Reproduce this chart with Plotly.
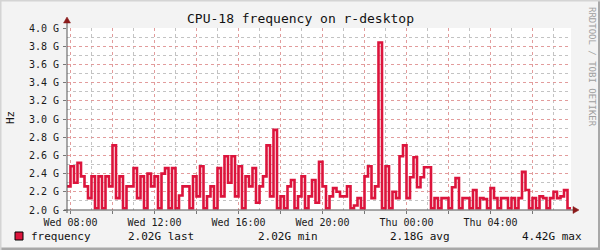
import plotly.graph_objects as go
import pandas as pd

# ---------------- data ----------------
start_time = "2024-01-03 07:50"   # a Wednesday
step_minutes = 10
freq_ghz = [
    2.26, 2.48, 2.30, 2.52, 2.37, 2.26, 2.13, 2.37, 2.02, 2.37,
    2.02, 2.37, 2.26, 2.71, 2.13, 2.37, 2.02, 2.26, 2.26, 2.46,
    2.13, 2.37, 2.02, 2.40, 2.26, 2.37, 2.02, 2.40, 2.46, 2.02,
    2.46, 2.02, 2.16, 2.26, 2.26, 2.02, 2.37, 2.15, 2.48, 2.02,
    2.15, 2.26, 2.02, 2.46, 2.15, 2.59, 2.30, 2.59, 2.15, 2.48,
    2.02, 2.37, 2.26, 2.46, 2.08, 2.26, 2.37, 2.71, 2.15, 2.88,
    2.02, 2.15, 2.02, 2.26, 2.33, 2.02, 2.15, 2.37, 2.02, 2.15,
    2.33, 2.08, 2.53, 2.26, 2.02, 2.15, 2.24, 2.20, 2.15, 2.15,
    2.26, 2.02, 2.05, 2.13, 2.02, 2.37, 2.48, 2.13, 2.26, 3.84,
    2.02, 2.48, 2.02, 2.20, 2.13, 2.59, 2.71, 2.13, 2.36, 2.58,
    2.25, 2.36, 2.47, 2.47, 2.02, 2.13, 2.02, 2.13, 2.13, 2.02,
    2.25, 2.35, 2.02, 2.13, 2.13, 2.02, 2.22, 2.02, 2.13, 2.12,
    2.02, 2.24, 2.13, 2.02, 2.13, 2.13, 2.02, 2.13, 2.02, 2.13,
    2.42, 2.22, 2.02, 2.13, 2.02, 2.15, 2.13, 2.02, 2.13, 2.20,
    2.13, 2.15, 2.22, 2.02,
]
y_tick_values = [2.0, 2.2, 2.4, 2.6, 2.8, 3.0, 3.2, 3.4, 3.6, 3.8, 4.0]
y_tick_labels = ["2.0 G", "2.2 G", "2.4 G", "2.6 G", "2.8 G", "3.0 G",
                 "3.2 G", "3.4 G", "3.6 G", "3.8 G", "4.0 G"]
legend_name = "frequency"
legend_stats = ["2.02G last", "2.02G min", "2.18G avg", "4.42G max"]
title_text = "CPU-18 frequency on r-desktop"
y_title = "Hz"
watermark = "RRDTOOL / TOBI OETIKER"

# ---------------- build ----------------
t0 = pd.Timestamp(start_time)
times = [t0 + pd.Timedelta(minutes=step_minutes * i) for i in range(len(freq_ghz))]
t_end = t0 + pd.Timedelta(hours=24)
xs = times + [t_end]
ys = freq_ghz + [freq_ghz[-1]]

first_even = pd.Timestamp("2024-01-03 08:00")
x_ticks = [first_even + pd.Timedelta(hours=2 * i) for i in range(12)]
x_ticktext = [t.strftime("%a %H:%M") if t.hour % 4 == 0 else "" for t in x_ticks]

MONO = "DejaVu Sans Mono"
LINE = "#DC143C"
RED_GRID = "rgba(240,140,140,0.7)"
GRAY_GRID = "rgba(175,175,175,0.75)"

fig = go.Figure()
fig.add_trace(go.Scatter(
    x=xs, y=ys, mode="lines", line=dict(color=LINE, width=2.6, shape="hv"),
    hoverinfo="skip", showlegend=False,
))

W, H = 600, 250
L, R, T, B = 67, 29, 28, 40
plot_h = H - T - B

fig.update_layout(
    width=W, height=H,
    margin=dict(l=L, r=R, t=T, b=B, pad=0),
    paper_bgcolor="#F3F3F3",
    plot_bgcolor="#FFFFFF",
    font=dict(family=MONO, size=10, color="#222222"),
    showlegend=False,
)
fig.update_xaxes(
    type="date", range=[t0, t_end],
    tickmode="array", tickvals=x_ticks, ticktext=x_ticktext,
    showgrid=True, gridcolor=RED_GRID, griddash="dot", gridwidth=1,
    ticks="outside", ticklen=3, tickcolor="#777777",
    tickfont=dict(family=MONO, size=10, color="#1A1A1A"),
    minor=dict(dtick=3600000, tick0=first_even, showgrid=True,
               gridcolor=GRAY_GRID, griddash="dot", gridwidth=1, ticks=""),
    showline=False, zeroline=False, fixedrange=True,
)
fig.update_yaxes(
    range=[2.0, 4.0],
    tickmode="array", tickvals=y_tick_values, ticktext=y_tick_labels,
    showgrid=True, gridcolor=RED_GRID, griddash="dot", gridwidth=1,
    ticks="outside", ticklen=3, tickcolor="#777777",
    ticklabelstandoff=2,
    tickfont=dict(family=MONO, size=10, color="#1A1A1A"),
    minor=dict(dtick=0.1, tick0=2.0, showgrid=True,
               gridcolor=GRAY_GRID, griddash="dot", gridwidth=1, ticks=""),
    showline=False, zeroline=False, fixedrange=True,
)

shapes = []
# axis lines (extend a bit beyond plot)
shapes.append(dict(type="line", xref="paper", yref="paper",
                   x0=0, x1=0, y0=-3 / plot_h, y1=1 + 6 / plot_h,
                   line=dict(color="#555555", width=1)))
shapes.append(dict(type="line", xref="paper", yref="paper",
                   x0=-3 / (W - L - R), x1=1 + 3 / (W - L - R), y0=0, y1=0,
                   line=dict(color="#555555", width=1)))
# arrows
shapes.append(dict(type="path", xref="paper", yref="paper",
                   xsizemode="pixel", ysizemode="pixel", xanchor=0, yanchor=1,
                   path="M -3.5,5 L 3.5,5 L 0,11 Z",
                   fillcolor="#8B1A1A", line=dict(color="#8B1A1A", width=0.5)))
shapes.append(dict(type="path", xref="paper", yref="paper",
                   xsizemode="pixel", ysizemode="pixel", xanchor=1, yanchor=0,
                   path="M 2,-3.5 L 2,3.5 L 8,0 Z",
                   fillcolor="#8B1A1A", line=dict(color="#8B1A1A", width=0.5)))
# legend swatch
shapes.append(dict(type="rect", xref="paper", yref="paper",
                   xsizemode="pixel", ysizemode="pixel", xanchor=0, yanchor=0,
                   x0=15 - L, x1=23 - L, y0=-(236 - 210) - 4, y1=-(236 - 210) + 4,
                   fillcolor=LINE, line=dict(color="#000000", width=1)))
# frame shading
shapes.append(dict(type="rect", xref="paper", yref="paper",
                   xsizemode="pixel", ysizemode="pixel", xanchor=0, yanchor=0,
                   x0=-L, x1=W - L, y0=-B, y1=-B + 2.5,
                   fillcolor="#A8A8A8", line=dict(width=0)))
shapes.append(dict(type="rect", xref="paper", yref="paper",
                   xsizemode="pixel", ysizemode="pixel", xanchor=1, yanchor=0,
                   x0=R - 2, x1=R, y0=-B, y1=plot_h + T,
                   fillcolor="#A8A8A8", line=dict(width=0)))
shapes.append(dict(type="rect", xref="paper", yref="paper",
                   xsizemode="pixel", ysizemode="pixel", xanchor=0, yanchor=1,
                   x0=-L, x1=W - L, y0=T - 1.5, y1=T,
                   fillcolor="#D4D4D4", line=dict(width=0)))
shapes.append(dict(type="rect", xref="paper", yref="paper",
                   xsizemode="pixel", ysizemode="pixel", xanchor=0, yanchor=0,
                   x0=-L, x1=-L + 1.5, y0=-B, y1=plot_h + T,
                   fillcolor="#D4D4D4", line=dict(width=0)))
fig.update_layout(shapes=shapes)


def px_x(px):
    return (px - L) / (W - L - R)


def px_y(py):
    return (H - B - py) / plot_h


ann = []
ann.append(dict(text=title_text, xref="paper", yref="paper",
                x=px_x(300), y=px_y(19), xanchor="center", yanchor="middle",
                showarrow=False, font=dict(family=MONO, size=13, color="#111111")))
ann.append(dict(text=y_title, xref="paper", yref="paper",
                x=px_x(10), y=px_y(118), xanchor="center", yanchor="middle",
                textangle=-90, showarrow=False,
                font=dict(family=MONO, size=11, color="#111111")))
ann.append(dict(text=legend_name, xref="paper", yref="paper",
                x=px_x(29), y=px_y(236.5), xanchor="left", yanchor="middle",
                showarrow=False, font=dict(family=MONO, size=11, color="#111111")))
stat_right_edges = [196, 320, 452, 584]
for txt, xr in zip(legend_stats, stat_right_edges):
    ann.append(dict(text=txt, xref="paper", yref="paper",
                    x=px_x(xr), y=px_y(236.5), xanchor="right", yanchor="middle",
                    showarrow=False, font=dict(family=MONO, size=11, color="#111111")))
ann.append(dict(text=watermark, xref="paper", yref="paper",
                x=px_x(592), y=px_y(5), xanchor="center", yanchor="top",
                textangle=90, showarrow=False,
                font=dict(family=MONO, size=9, color="#A0A0A0")))
fig.update_layout(annotations=ann)

fig.write_html("out.html")
